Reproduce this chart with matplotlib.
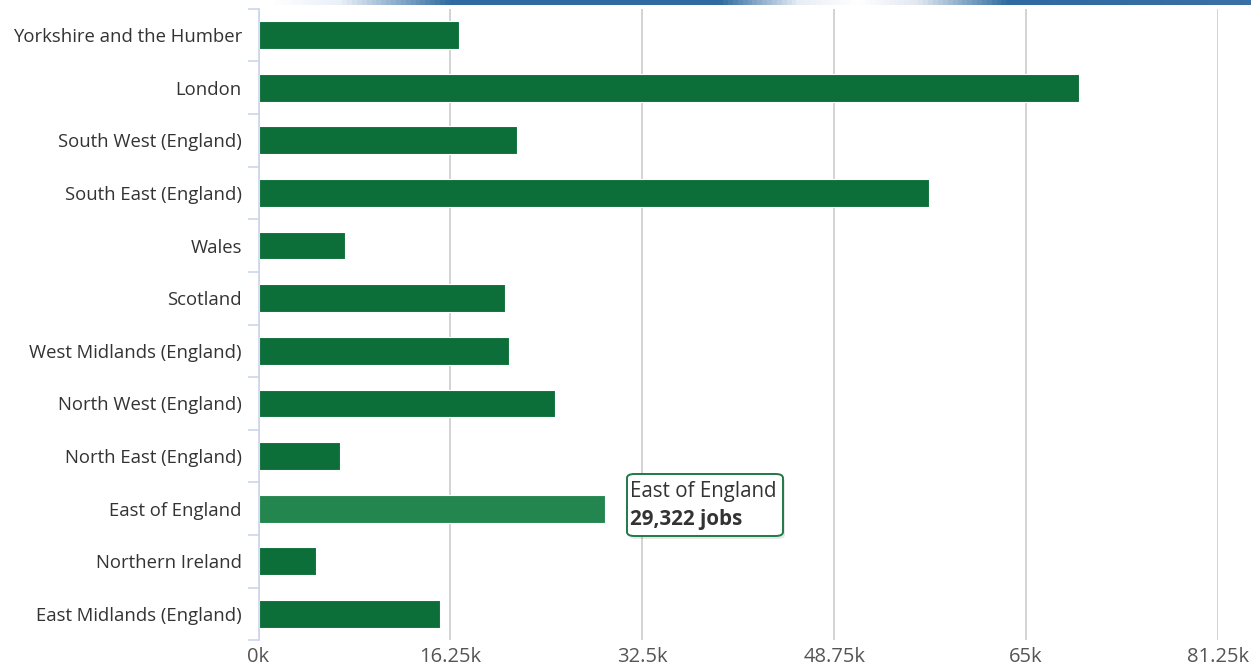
import numpy as np
import matplotlib.pyplot as plt
from matplotlib.colors import LinearSegmentedColormap
from matplotlib.patches import FancyBboxPatch

# Data (jobs, in thousands)
regions = ["Yorkshire and the Humber", "London", "South West (England)",
           "South East (England)", "Wales", "Scotland", "West Midlands (England)",
           "North West (England)", "North East (England)", "East of England",
           "Northern Ireland", "East Midlands (England)"]
jobs_k = [17.0, 69.5, 21.9, 56.8, 7.3, 20.9, 21.2, 25.1, 6.9, 29.322, 4.9, 15.4]
tick_vals = [0, 16.25, 32.5, 48.75, 65, 81.25]
tick_labels = ["0k", "16.25k", "32.5k", "48.75k", "65k", "81.25k"]
highlight = "East of England"

plt.rcParams['font.family'] = ['Open Sans', 'DejaVu Sans']

fig = plt.figure(figsize=(12.51, 6.71), dpi=100)
ax = fig.add_axes([258.5 / 1251, 30.7 / 671, (1218 - 258.5) / 1251, (662.3 - 30.7) / 671])

y = np.arange(len(regions))
colors = ['#23864f' if r == highlight else '#0c6e38' for r in regions]
ax.barh(y, jobs_k, height=0.53, color=colors, edgecolor='white', linewidth=0.8, zorder=3)

ax.set_ylim(len(regions) - 0.5, -0.5)
ax.set_xlim(0, 81.25)
ax.set_yticks(y)
ax.set_yticklabels(regions, fontsize=13.3, color='#333333')
ax.set_xticks(tick_vals)
ax.set_xticklabels(tick_labels, fontsize=14.5, color='#555555')
ax.tick_params(axis='x', length=0, pad=5)
ax.tick_params(axis='y', length=0, pad=12)

# category boundary ticks
ax.set_yticks(np.arange(len(regions) + 1) - 0.5, minor=True)
ax.tick_params(axis='y', which='minor', length=8, color='#ccd6eb', width=1.2)

ax.grid(axis='x', color='#cccccc', linewidth=1.2, zorder=0)
for s in ['top', 'right', 'bottom']:
    ax.spines[s].set_visible(False)
ax.spines['left'].set_color('#ccd6eb')
ax.spines['left'].set_linewidth(1.2)
ax.spines['left'].set_zorder(4)

# tooltip for the highlighted bar
i = regions.index(highlight)
tip = FancyBboxPatch((627 / 1251, (671 - 536) / 671), 156 / 1251, 62 / 671,
                     boxstyle="round,pad=0,rounding_size=0.006", transform=fig.transFigure,
                     facecolor='white', edgecolor='#1e7a45', linewidth=1.4, zorder=10)
shadow = FancyBboxPatch((629 / 1251, (671 - 539) / 671), 156 / 1251, 62 / 671,
                        boxstyle="round,pad=0,rounding_size=0.006", transform=fig.transFigure,
                        facecolor='#00000018', edgecolor='none', zorder=9)
fig.patches.extend([shadow, tip])
fig.text(630 / 1251, (671 - 491) / 671, regions[i], fontsize=14.8, color='#333333',
         va='center', ha='left', zorder=11)
fig.text(630 / 1251, (671 - 519) / 671, f"{jobs_k[i] * 1000:,.0f} jobs", fontsize=14.8,
         color='#333333', fontweight='bold', va='center', ha='left', zorder=11)

# top decorative gradient strip
cmap = LinearSegmentedColormap.from_list('strip', [
    (0.0, '#ffffff'), (270 / 1251, '#ffffff'), (340 / 1251, '#e8f0f8'),
    (450 / 1251, '#2f6aa0'), (720 / 1251, '#2f6aa0'), (800 / 1251, '#e8eef5'),
    (860 / 1251, '#ffffff'), (920 / 1251, '#e0e8f0'), (1010 / 1251, '#2f6aa0'),
    (1.0, '#3a70a5')])
strip = fig.add_axes([0, 1 - 5 / 671, 1, 5 / 671])
strip.imshow(np.linspace(0, 1, 1251)[None, :], aspect='auto', cmap=cmap)
strip.axis('off')

fig.savefig('out.png', dpi=100)
